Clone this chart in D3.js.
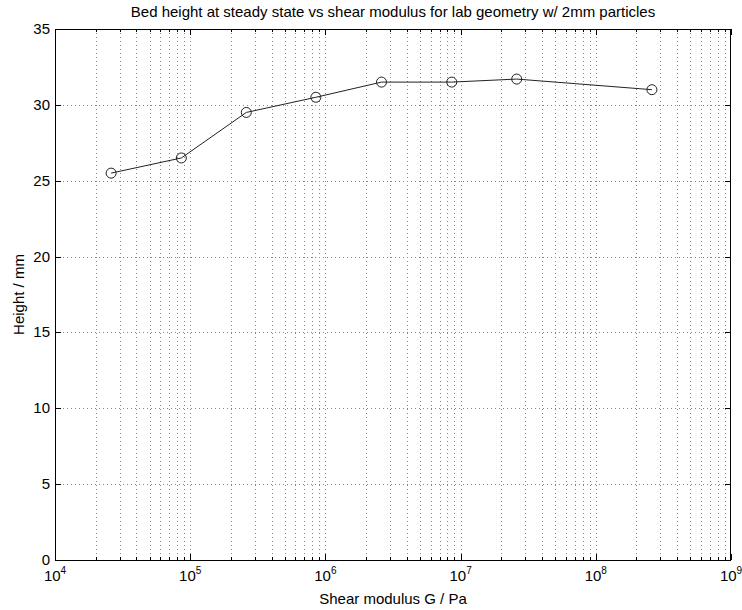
<!DOCTYPE html>
<html>
<head>
<meta charset="utf-8">
<script src="https://cdn.jsdelivr.net/npm/d3@7"></script>
<style>
  body { margin: 0; background: #fff; }
  svg { font-family: "Liberation Sans", Arial, sans-serif; }
</style>
</head>
<body>
<div class="chart"></div>
<script>
// data
const modulus = [2.6e4, 8.6e4, 2.6e5, 8.5e5, 2.6e6, 8.6e6, 2.6e7, 2.6e8]
const height = [25.5, 26.5, 29.5, 30.5, 31.5, 31.5, 31.7, 31.0]
const yTicks = [0, 5, 10, 15, 20, 25, 30, 35]
const xDecades = [4, 5, 6, 7, 8, 9]

const W = 742, H = 610
const m = {left: 55, right: 11, top: 29, bottom: 50}

const x = d3.scaleLog().domain([1e4, 1e9]).range([m.left, W - m.right])
const y = d3.scaleLinear().domain([0, 35]).range([H - m.bottom, m.top])

const svg = d3.select('.chart')
    .append('svg')
    .attr('width', W)
    .attr('height', H)

// all log ticks (majors + minors)
let allX = []
xDecades.forEach((e, i) => {
    allX.push(Math.pow(10, e))
    if (i < xDecades.length - 1) {
        for (let k = 2; k <= 9; k++) allX.push(k * Math.pow(10, e))
    }
})

const grid = svg.append('g')
grid.selectAll('.gx')
    .data(allX.filter(v => v > 1e4 && v < 1e9))
    .enter()
    .append('line')
    .attr('x1', d => Math.round(x(d)) + 0.5)
    .attr('x2', d => Math.round(x(d)) + 0.5)
    .attr('y1', y(35))
    .attr('y2', y(0))
    .attr('stroke', '#888')
    .attr('stroke-dasharray', '1,3')
grid.selectAll('.gy')
    .data(yTicks.filter(v => v > 0 && v < 35))
    .enter()
    .append('line')
    .attr('x1', m.left)
    .attr('x2', W - m.right)
    .attr('y1', d => Math.round(y(d)) + 0.5)
    .attr('y2', d => Math.round(y(d)) + 0.5)
    .attr('stroke', '#888')
    .attr('stroke-dasharray', '1,3')

// box + inner ticks
const tk = svg.append('g').attr('stroke', '#000')
allX.forEach(v => {
    const major = Math.abs(Math.log10(v) % 1) < 1e-9
    const len = major ? 6 : 3
    const px = Math.round(x(v)) + 0.5
    tk.append('line').attr('x1', px).attr('x2', px).attr('y1', y(0)).attr('y2', y(0) - len)
    tk.append('line').attr('x1', px).attr('x2', px).attr('y1', y(35)).attr('y2', y(35) + len)
})
yTicks.forEach(v => {
    const py = Math.round(y(v)) + 0.5
    tk.append('line').attr('x1', m.left).attr('x2', m.left + 6).attr('y1', py).attr('y2', py)
    tk.append('line').attr('x1', W - m.right).attr('x2', W - m.right - 6).attr('y1', py).attr('y2', py)
})
svg.append('rect')
    .attr('x', m.left + 0.5)
    .attr('y', m.top + 0.5)
    .attr('width', W - m.left - m.right - 1)
    .attr('height', H - m.top - m.bottom)
    .attr('fill', 'none')
    .attr('stroke', '#000')

// y tick labels
svg.selectAll('.yl')
    .data(yTicks)
    .enter()
    .append('text')
    .attr('x', m.left - 5)
    .attr('y', d => y(d) + 5)
    .attr('text-anchor', 'end')
    .attr('font-size', 15)
    .text(d => d)

// x tick labels 10^n
xDecades.forEach(e => {
    const t = svg.append('text')
        .attr('x', x(Math.pow(10, e)))
        .attr('y', y(0) + 21)
        .attr('text-anchor', 'middle')
        .attr('font-size', 15)
    t.append('tspan').text('10')
    t.append('tspan').attr('dy', -7).attr('font-size', 10).text(e)
})

// line + markers
const line = d3.line()
    .x((d, i) => x(modulus[i]))
    .y(d => y(d))
svg.append('path')
    .datum(height)
    .attr('d', line)
    .attr('fill', 'none')
    .attr('stroke', '#222')
    .attr('stroke-width', 1)
svg.selectAll('.pt')
    .data(height)
    .enter()
    .append('circle')
    .attr('cx', (d, i) => x(modulus[i]))
    .attr('cy', d => y(d))
    .attr('r', 5)
    .attr('fill', 'none')
    .attr('stroke', '#222')

// titles
svg.append('text')
    .attr('x', (m.left + W - m.right) / 2)
    .attr('y', 17)
    .attr('text-anchor', 'middle')
    .attr('font-size', 15)
    .text('Bed height at steady state vs shear modulus for lab geometry w/ 2mm particles')
svg.append('text')
    .attr('x', (m.left + W - m.right) / 2)
    .attr('y', 604)
    .attr('text-anchor', 'middle')
    .attr('font-size', 15)
    .text('Shear modulus G / Pa')
svg.append('text')
    .attr('transform', 'translate(24,' + ((m.top + H - m.bottom) / 2) + ') rotate(-90)')
    .attr('text-anchor', 'middle')
    .attr('font-size', 15)
    .text('Height / mm')
</script>
</body>
</html>
